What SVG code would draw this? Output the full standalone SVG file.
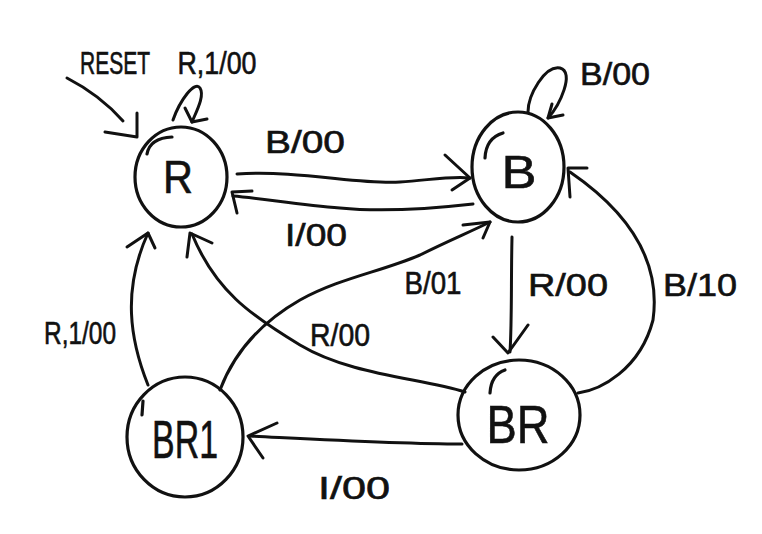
<svg xmlns="http://www.w3.org/2000/svg" width="762" height="534" viewBox="0 0 762 534">
<style>
.n{fill:none;stroke:#111;stroke-width:3.2;stroke-linecap:round;stroke-linejoin:round}
.c{fill:none;stroke:#111;stroke-width:3;stroke-linecap:round;stroke-linejoin:round}
.t{font-family:"Liberation Sans","DejaVu Sans",sans-serif;fill:#111;stroke:#111;stroke-width:0.6;text-anchor:middle}
.big{font-size:46px}
.lb{font-size:31px}
</style>
<rect width="762" height="534" fill="#fff"/>
<g id="node-R">
<ellipse class="n" cx="181" cy="177" rx="46" ry="50"/>
<path class="n" d="M147,154 Q150,138 172,137"/>
<text class="t big" x="178" y="193" textLength="30" lengthAdjust="spacingAndGlyphs">R</text>
</g>
<g id="node-B">
<ellipse class="n" cx="518" cy="167" rx="46" ry="55"/>
<path class="n" d="M485,158 Q486,138 503,133"/>
<text class="t big" x="519" y="188" textLength="35" lengthAdjust="spacingAndGlyphs">B</text>
</g>
<g id="node-BR1">
<ellipse class="n" cx="185" cy="437" rx="58" ry="60"/>
<path class="n" d="M143,401 L142,415"/>
<text class="t big" x="185" y="458" style="font-size:54px" textLength="66" lengthAdjust="spacingAndGlyphs">BR1</text>
</g>
<g id="node-BR">
<ellipse class="n" cx="519" cy="415" rx="61" ry="55"/>
<path class="n" d="M490,393 Q491,375 505,370"/>
<text class="t big" x="518" y="443" style="font-size:54px" textLength="63" lengthAdjust="spacingAndGlyphs">BR</text>
</g>
<g id="connectors">
<path class="c" d="M67,78 Q100,95 123,121"/>
<path class="c" d="M137,113 L137,137 L105,132"/>
<path class="c" d="M173,120 C180,100 195,80 200,88 C205,96 196,112 192,122"/>
<path class="c" d="M185,108 L192,122 L207,119"/>
<path class="c" d="M237,174 C300,170 360,185 400,182 C430,180 450,176 470,178"/>
<path class="c" d="M445,155 L470,178 L452,190"/>
<path class="c" d="M473,204 C420,210 380,212 340,208 C300,205 260,198 233,196"/>
<path class="c" d="M252,191 L232,192 L237,213"/>
<path class="c" d="M528,112 C528,95 545,65 560,68 C575,72 560,105 548,118"/>
<path class="c" d="M552,104 L548,118 L563,115"/>
<path class="c" d="M512,237 C511,280 512,320 510,352"/>
<path class="c" d="M493,337 L508,353 L528,325"/>
<path class="c" d="M578,393 C600,390 640,370 653,320 C660,270 640,220 570,172"/>
<path class="c" d="M587,168 L568,168 L570,197"/>
<path class="c" d="M220,390 C235,350 265,320 300,300 C340,278 380,272 420,255 C450,240 470,232 490,222"/>
<path class="c" d="M463,225 L490,222 L483,238"/>
<path class="c" d="M465,392 C420,378 350,375 300,345 C250,315 215,290 192,234"/>
<path class="c" d="M187,257 L190,233 L212,243"/>
<path class="c" d="M148,385 C130,340 122,290 148,233"/>
<path class="c" d="M127,247 L148,233 L155,248"/>
<path class="c" d="M462,444 C400,444 330,440 250,436"/>
<path class="c" d="M277,423 L248,436 L263,458"/>
</g>
<g id="labels">
<text class="t lb" x="115" y="74" textLength="70" lengthAdjust="spacingAndGlyphs">RESET</text>
<text class="t lb" x="217" y="74" textLength="79" lengthAdjust="spacingAndGlyphs">R,1/00</text>
<text class="t lb" x="305" y="153" textLength="80" lengthAdjust="spacingAndGlyphs">B/00</text>
<text class="t lb" x="316" y="246" textLength="62" lengthAdjust="spacingAndGlyphs">I/00</text>
<text class="t lb" x="615" y="85" textLength="70" lengthAdjust="spacingAndGlyphs">B/00</text>
<text class="t lb" x="568" y="296" textLength="80" lengthAdjust="spacingAndGlyphs">R/00</text>
<text class="t lb" x="700" y="296" textLength="74" lengthAdjust="spacingAndGlyphs">B/10</text>
<text class="t lb" x="433" y="294" textLength="57" lengthAdjust="spacingAndGlyphs">B/01</text>
<text class="t lb" x="340" y="346" textLength="60" lengthAdjust="spacingAndGlyphs">R/00</text>
<text class="t lb" x="80" y="344" textLength="72" lengthAdjust="spacingAndGlyphs">R,1/00</text>
<text class="t lb" x="354" y="499" textLength="72" lengthAdjust="spacingAndGlyphs">I/00</text>
</g>
</svg>
